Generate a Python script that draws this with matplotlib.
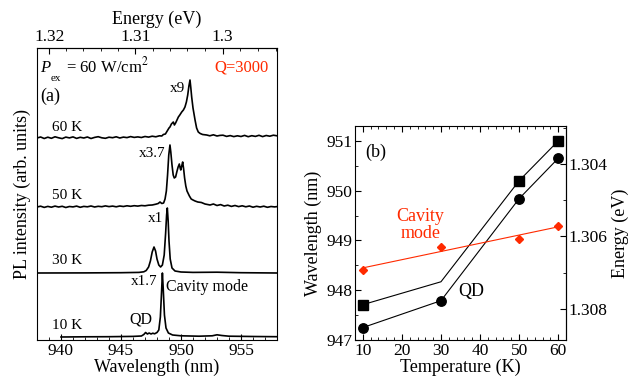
import numpy as np
import matplotlib
matplotlib.use('Agg')
import matplotlib.pyplot as plt
from matplotlib.ticker import MultipleLocator

plt.rcParams['font.family'] = ['Liberation Serif', 'DejaVu Serif']
plt.rcParams['mathtext.fontset'] = 'stix'

# ---------------- data: panel (a) spectra (wavelength nm, intensity arb.) ----------------
wl_60K = [938.0, 938.3, 938.6, 938.9, 939.2, 939.5, 939.8, 940.1, 940.4, 940.7, 941.0, 941.3,
          941.6, 941.9, 942.2, 942.5, 942.8, 943.1, 943.4, 943.7, 944.0, 944.3, 944.6, 944.9,
          945.2, 945.5, 945.8, 946.1, 946.4, 946.7, 947.0, 947.3, 947.6, 947.9, 948.2, 948.4,
          948.53, 948.7, 948.85, 949.0, 949.08, 949.2, 949.36, 949.45, 949.55, 949.78, 949.9,
          950.06, 950.2, 950.33, 950.45, 950.56, 950.66, 950.75, 950.82, 950.89, 951.0, 951.17,
          951.3, 951.44, 951.6, 951.8, 952.14, 952.4, 952.7, 953.0, 953.25, 953.5, 953.8, 954.1,
          954.4, 954.7, 955.0, 955.3, 955.6, 955.9, 956.2, 956.5, 956.8, 957.1, 957.4, 957.7, 958.0]
int_60K = [0.0, 1.0, -0.5, 0.8, -0.3, 1.2, 0.2, -0.6, 0.9, 0.1, 1.1, -0.4,
           0.7, 0.0, 1.0, -0.5, 0.6, 1.3, 0.2, -0.3, 0.8, 0.3, 1.2, 0.0,
           0.9, 0.4, 1.4, 0.6, 1.1, 0.5, 1.5, 0.9, 1.8, 1.2, 2.2, 2.0,
           3.5, 4.0, 7.0, 10.0, 11.0, 14.0, 16.0, 13.0, 15.0, 21.0, 23.0,
           26.0, 28.0, 31.0, 36.0, 43.0, 52.0, 58.0, 50.0, 41.0, 30.0, 18.0,
           10.0, 6.0, 4.5, 3.5, 3.0, 2.2, 3.2, 2.0, 2.6, 2.8, 1.6, 2.4,
           1.4, 2.2, 1.5, 2.6, 1.3, 2.3, 1.6, 2.7, 1.4, 2.5, 1.8, 2.8, 2.2]

wl_50K = [938.0, 938.3, 938.6, 938.9, 939.2, 939.5, 939.8, 940.1, 940.4, 940.7, 941.0, 941.3,
          941.6, 941.9, 942.2, 942.5, 942.8, 943.1, 943.4, 943.7, 944.0, 944.3, 944.6, 944.9,
          945.2, 945.5, 945.8, 946.1, 946.4, 946.7, 947.0, 947.3, 947.6, 947.9, 948.1, 948.25,
          948.4, 948.55, 948.67, 948.78, 948.88, 948.98, 949.08, 949.15, 949.25, 949.35, 949.44,
          949.55, 949.65, 949.76, 949.86, 949.93, 949.98, 950.06, 950.14, 950.22, 950.3, 950.4,
          950.5, 950.58, 950.7, 950.85, 951.0, 951.17, 951.4, 951.7, 952.0, 952.42, 952.7, 953.0,
          953.3, 953.6, 953.9, 954.2, 954.5, 954.8, 955.1, 955.4, 955.7, 956.0, 956.3, 956.6,
          956.9, 957.2, 957.5, 957.8, 958.0]
int_50K = [0.0, 0.8, -0.4, 0.6, -0.2, 0.9, 0.0, 0.7, -0.5, 0.5, 0.1, 0.9,
           -0.3, 0.6, 0.2, 1.0, 0.0, 0.7, 0.3, 1.1, 0.4, 0.9, 0.2, 1.0,
           0.5, 1.2, 0.7, 1.3, 0.9, 1.5, 1.2, 1.8, 2.0, 2.8, 3.5, 5.0,
           3.5, 4.0, 8.0, 16.0, 32.0, 52.0, 62.0, 55.0, 42.0, 32.0, 29.0,
           30.0, 35.0, 40.0, 43.0, 39.0, 37.0, 41.0, 45.0, 38.0, 29.0, 21.0,
           16.0, 14.0, 11.0, 8.0, 7.0, 6.0, 5.0, 4.5, 3.0, 2.0, 3.0, 1.5,
           2.4, 1.0, 1.8, 0.6, 1.5, 0.4, 1.2, 0.2, 1.0, -0.2, 0.7, 0.0,
           0.8, -0.3, 0.5, 0.1, 0.4]

wl_30K = [938.0, 942.0, 945.0, 946.5, 946.9, 947.1, 947.3, 947.45, 947.6, 947.75, 947.88, 948.0,
          948.15, 948.3, 948.45, 948.6, 948.72, 948.8, 948.86, 948.93, 949.0, 949.1, 949.25,
          949.5, 950.0, 951.0, 953.0, 955.0, 958.0]
int_30K = [0.0, 0.1, 0.3, 0.6, 1.2, 2.5, 6.0, 12.0, 21.0, 26.0, 22.0, 14.0,
           8.0, 6.0, 8.0, 18.0, 40.0, 58.0, 65.0, 52.0, 32.0, 14.0, 5.0,
           2.0, 1.0, 0.6, 0.8, 0.3, 0.0]

wl_10K = [940.0, 942.0, 944.0, 946.0, 946.7, 946.9, 947.05, 947.2, 947.35, 947.5, 947.65, 947.8,
          948.0, 948.15, 948.28, 948.38, 948.45, 948.52, 948.62, 948.75, 948.95, 949.3, 950.0,
          951.5, 952.6, 953.0, 953.4, 954.0, 956.0, 958.0]
int_10K = [0.0, 0.2, 0.3, 0.6, 1.0, 2.5, 4.5, 3.0, 4.0, 3.0, 3.8, 3.2,
           4.5, 7.0, 20.0, 45.0, 64.0, 48.0, 22.0, 9.0, 4.0, 2.0, 1.2,
           0.8, 1.2, 2.2, 1.5, 0.8, 0.5, 0.3]

spectra_offsets = [202, 133, 67, 3]
temp_labels = ['60 K', '50 K', '30 K', '10 K']
scale_labels = ['x9', 'x3.7', 'x1', 'x1.7']

# ---------------- data: panel (b) ----------------
temps = [10, 30, 50, 60]
qd_wl = [947.25, 947.79, 949.84, 950.65]
line2_wl = [947.71, 948.17, 950.2, 951.0]
cav_wl = [948.41, 948.87, 949.03, 949.3]

HC_AIR = 1239.5  # eV*nm (air wavelength)
RED = '#ff2a00'


def to_energy(x):
    x = np.asarray(x, dtype=float)
    with np.errstate(divide='ignore', invalid='ignore'):
        return HC_AIR / x


fig = plt.figure(figsize=(6.28, 3.81), dpi=100)

# ---------------- panel (a) ----------------
axA = fig.add_axes([37 / 628, 41 / 381, 240 / 628, 292 / 381])
for wl, it, off in zip([wl_60K, wl_50K, wl_30K, wl_10K],
                       [int_60K, int_50K, int_30K, int_10K], spectra_offsets):
    axA.plot(wl, np.asarray(it) + off, color='black', lw=1.2)

axA.set_xlim(938, 958)
axA.set_ylim(0, 292)
axA.set_yticks([])
axA.xaxis.set_major_locator(MultipleLocator(5))
axA.xaxis.set_minor_locator(MultipleLocator(1))
axA.tick_params(axis='x', which='both', direction='in', top=False, labelsize=12.5, pad=2)
axA.tick_params(axis='x', which='major', length=4)
axA.tick_params(axis='x', which='minor', length=2)
axA.set_xlabel('Wavelength (nm)', fontsize=13, labelpad=0)
axA.set_ylabel('PL intensity (arb. units)', fontsize=13, labelpad=4)

secA = axA.secondary_xaxis('top', functions=(to_energy, to_energy))
secA.set_xticks([1.32, 1.31, 1.30])
secA.set_xticklabels(['1.32', '1.31', '1.3'])
secA.set_xticks(np.arange(1.294, 1.3221, 0.002), minor=True)
secA.tick_params(which='both', direction='in', labelsize=12.5, pad=2)
secA.tick_params(which='major', length=4)
secA.tick_params(which='minor', length=2)
secA.set_xlabel('Energy (eV)', fontsize=13, labelpad=4)

label_y = [206, 138, 73, 8]
for t, y in zip(temp_labels, label_y):
    axA.text(939.25, y, t, fontsize=11, ha='left', va='bottom')
axA.text(950.33, 245, scale_labels[0], fontsize=11, ha='right', va='bottom')
axA.text(948.67, 180, scale_labels[1], fontsize=11, ha='right', va='bottom')
axA.text(948.5, 115, scale_labels[2], fontsize=11, ha='right', va='bottom')
axA.text(948.0, 52, scale_labels[3], fontsize=11, ha='right', va='bottom')
axA.text(948.75, 45, 'Cavity mode', fontsize=11.5, ha='left', va='bottom')
axA.text(946.67, 13, 'QD', fontsize=11.5, ha='center', va='bottom')
axA.text(938.25, 235, '(a)', fontsize=13, ha='left', va='bottom')
axA.text(938.25, 268, 'P', fontsize=12, style='italic', ha='left', va='baseline')
axA.text(939.15, 259, 'ex', fontsize=8, ha='left', va='baseline')
axA.text(940.45, 268, r'= 60 W/cm$^{2}$', fontsize=12, ha='left', va='baseline')
axA.text(957.3, 268, 'Q=3000', fontsize=12, color=RED, ha='right', va='baseline')

# ---------------- panel (b) ----------------
axB = fig.add_axes([355 / 628, 41 / 381, 211 / 628, 214 / 381])
axB.plot(temps, line2_wl, color='black', lw=0.8, marker='s', ms=6.5, markevery=[0, 2, 3])
axB.plot(temps, qd_wl, color='black', lw=0.8, marker='o', ms=6.8)
coef = np.polyfit(temps, cav_wl, 1)
fit_t = [temps[0], temps[-1]]
axB.plot(fit_t, np.polyval(coef, fit_t), color=RED, lw=0.8)
axB.plot(temps, cav_wl, ls='none', marker='D', ms=4.2, color=RED)

axB.set_xlim(8, 62)
axB.set_ylim(947.0, 951.3)
axB.xaxis.set_major_locator(MultipleLocator(10))
axB.xaxis.set_minor_locator(MultipleLocator(2))
axB.yaxis.set_major_locator(MultipleLocator(1))
axB.yaxis.set_minor_locator(MultipleLocator(0.5))
axB.tick_params(which='both', direction='in', top=True, right=False, labelsize=12.5, pad=2)
axB.tick_params(which='major', length=4)
axB.tick_params(which='minor', length=2)
axB.set_xlabel('Temperature (K)', fontsize=13, labelpad=0)
axB.set_ylabel('Wavelength (nm)', fontsize=13, labelpad=3)

secB = axB.secondary_yaxis('right', functions=(to_energy, to_energy))
secB.set_yticks([1.304, 1.306, 1.308])
secB.set_yticklabels(['1.304', '1.306', '1.308'])
secB.set_yticks(np.arange(1.303, 1.3091, 0.001), minor=True)
secB.tick_params(which='both', direction='in', labelsize=12.5, pad=2)
secB.tick_params(which='major', length=4)
secB.tick_params(which='minor', length=2)
secB.set_ylabel('Energy (eV)', fontsize=13, labelpad=3)

axB.text(10.6, 950.78, '(b)', fontsize=13, ha='left', va='center')
axB.text(24.7, 949.31, 'Cavity\nmode', fontsize=13, color=RED, ha='center', va='center',
         linespacing=1.0)
axB.text(34.4, 947.81, 'QD', fontsize=13, ha='left', va='bottom')

fig.savefig('out.png', dpi=100)
